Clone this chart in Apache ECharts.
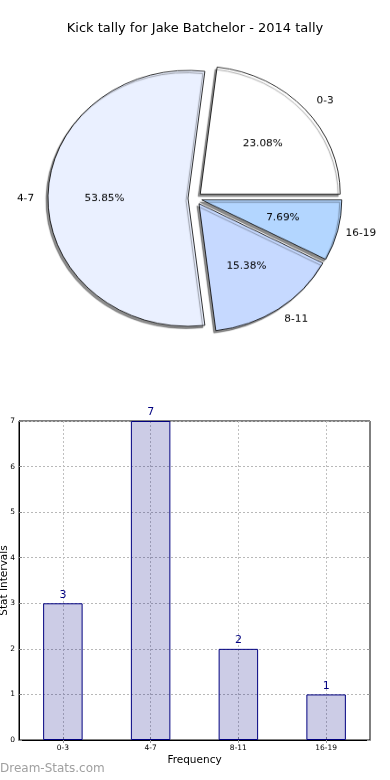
<!DOCTYPE html>
<html>
<head>
<meta charset="utf-8">
<script src="https://cdn.jsdelivr.net/npm/echarts@6/dist/echarts.min.js"></script>
<style>
html,body{margin:0;padding:0;background:#fff;}
#main{position:absolute;left:0;top:0;width:390px;height:780px;}
#pie{position:absolute;left:0;top:0;width:390px;height:400px;transform-origin:0 0;transform:scaleY(0.914);pointer-events:none;}
</style>
</head>
<body>
<div id="main"></div>
<div id="pie"></div>
<script>
const titleText = 'Kick tally for Jake Batchelor - 2014 tally';
const categories = ['0-3', '4-7', '8-11', '16-19'];
const values = [3, 7, 2, 1];
const pieColors = ['#ffffff', '#eaf0ff', '#c6d9ff', '#b3d6ff'];
const yTicks = [0, 1, 2, 3, 4, 5, 6, 7];
const xAxisName = 'Frequency';
const yAxisName = 'Stat Intervals';
const watermark = 'Dream-Stats.com';

const FONT = 'DejaVu Sans';
const R = 140;
const OFF = 7;
const CENTER = [195, 217];

function sidePadding(i) {
  const total = values.reduce((a, b) => a + b, 0);
  let acc = 0;
  for (let k = 0; k < i; k++) acc += values[k];
  const mid = (acc + values[i] / 2) / total * 2 * Math.PI;
  return Math.cos(mid) >= 0 ? [0, 0, 0, 20] : [0, 18, 0, 0];
}

const pieMain = categories.map((c, i) => ({
  name: c, value: values[i], selected: true,
  itemStyle: { color: pieColors[i] }
}));
const piePct = categories.map((c, i) => ({ name: c, value: values[i], selected: true }));
const pieName = categories.map((c, i) => ({
  name: c, value: values[i], selected: true,
  label: { padding: sidePadding(i) }
}));

const common = {
  type: 'pie', center: CENTER, startAngle: 0, clockwise: false,
  selectedMode: 'multiple', selectedOffset: OFF, avoidLabelOverlap: false,
  emphasis: { disabled: true }, animation: false, silent: true,
  labelLine: { show: false }, percentPrecision: 2
};

const pie = echarts.init(document.getElementById('pie'), null, { renderer: 'canvas' });
pie.setOption({
  animation: false,
  series: [
    Object.assign({}, common, {
      radius: [0, R], z: 1, data: pieMain,
      itemStyle: {
        borderColor: '#000', borderWidth: 0.8,
        shadowColor: 'rgba(0,0,0,0.45)', shadowOffsetX: -2, shadowOffsetY: 2.5, shadowBlur: 1
      },
      label: { show: false }
    }),
    Object.assign({}, common, {
      radius: [R * 0.15, R], z: 2, data: piePct,
      itemStyle: { color: 'rgba(0,0,0,0)', borderWidth: 0 },
      label: { show: true, position: 'inside', formatter: '{d}%', color: '#000', fontSize: 10.5, fontFamily: FONT }
    }),
    Object.assign({}, common, {
      radius: [R, R * 1.15], z: 2, data: pieName,
      itemStyle: { color: 'rgba(0,0,0,0)', borderWidth: 0 },
      label: { show: true, position: 'inside', formatter: '{b}', color: '#000', fontSize: 10.5, fontFamily: FONT }
    })
  ]
});

const main = echarts.init(document.getElementById('main'), null, { renderer: 'canvas' });
main.setOption({
  animation: false,
  textStyle: { fontFamily: FONT },
  title: {
    text: titleText, left: 'center', top: 22, padding: 0,
    textStyle: { fontSize: 13, fontWeight: 'normal', color: '#000', fontFamily: FONT }
  },
  graphic: [{
    type: 'text', left: 0, top: 763,
    style: { text: watermark, fontSize: 12, fill: '#a0a0a0', fontFamily: FONT }
  }],
  grid: {
    left: 19, right: 20, top: 421, bottom: 40, containLabel: false, outerBoundsMode: 'none',
    show: true, borderColor: '#000', borderWidth: 1, backgroundColor: 'transparent'
  },
  xAxis: [{
    type: 'category', data: categories, position: 'bottom',
    name: xAxisName, nameLocation: 'middle', nameGap: 15, nameMoveOverlap: false,
    nameTextStyle: { fontSize: 10.5, color: '#000', fontFamily: FONT },
    axisLine: { show: true, lineStyle: { color: '#000' } },
    axisTick: { show: true, inside: true, alignWithLabel: true, length: 3, lineStyle: { color: '#888' } },
    axisLabel: { fontSize: 7.5, color: '#000', margin: 4, fontFamily: FONT },
    splitLine: { show: true, alignWithLabel: true, lineStyle: { color: '#c0c0c0', type: [2, 2], width: 1 } }
  }, {
    type: 'category', data: categories, position: 'top',
    axisLine: { show: false }, axisLabel: { show: false },
    axisTick: { show: true, inside: true, alignWithLabel: true, length: 3, lineStyle: { color: '#999' } },
    splitLine: { show: false }
  }],
  yAxis: [{
    type: 'value', min: yTicks[0], max: yTicks[yTicks.length - 1], interval: 1,
    name: yAxisName, nameLocation: 'middle', nameGap: 9, nameMoveOverlap: false,
    nameTextStyle: { fontSize: 10.5, color: '#000', fontFamily: FONT },
    axisLine: { show: true, lineStyle: { color: '#000' } },
    axisTick: { show: true, inside: true, length: 3, lineStyle: { color: '#888' } },
    axisLabel: { fontSize: 7.5, color: '#000', margin: 4, fontFamily: FONT },
    splitLine: { show: true, lineStyle: { color: '#b8b8b8', type: [2, 2], width: 1 } }
  }, {
    type: 'value', min: yTicks[0], max: yTicks[yTicks.length - 1], interval: 1, position: 'right',
    axisLine: { show: false }, axisLabel: { show: false },
    axisTick: { show: true, inside: true, length: 3, lineStyle: { color: '#999' } },
    splitLine: { show: false }
  }],
  series: [{
    type: 'bar', data: values, barWidth: '45%',
    itemStyle: { color: 'rgba(0,0,128,0.2)', borderColor: '#000080', borderWidth: 1 },
    label: { show: true, position: 'top', distance: 3, color: '#000080', fontSize: 11, fontFamily: FONT }
  }]
});
</script>
</body>
</html>
